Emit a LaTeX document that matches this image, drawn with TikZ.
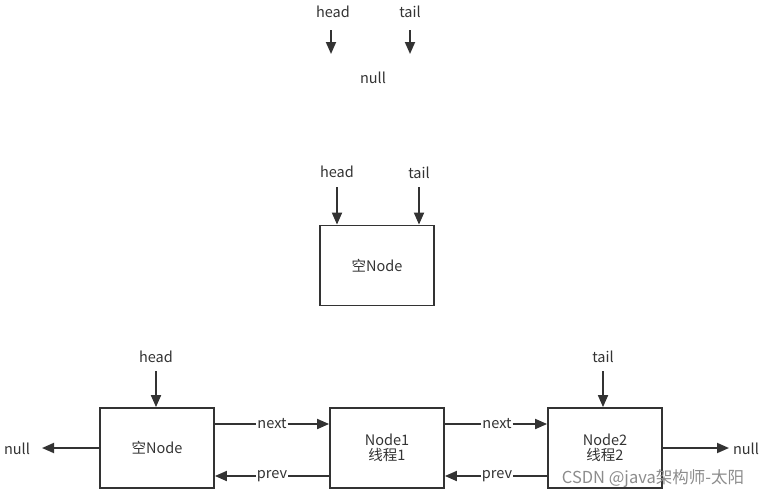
\documentclass[tikz,border=0pt]{standalone}
\usepackage{fontspec}
\setmainfont{Noto Sans CJK SC}
\usetikzlibrary{arrows.meta}
\definecolor{ink}{HTML}{333333}
\tikzset{
  box/.style={draw=ink, line width=1.8pt, minimum width=114pt, minimum height=80pt, inner sep=0pt, align=center, text=ink, font=\fontsize{14.5}{18}\selectfont},
  lbl/.style={text=ink, inner sep=1pt, font=\fontsize{14.5}{16}\selectfont},
  arr/.style={draw=ink, line width=1.8pt, -{Triangle[length=12pt,width=10pt]}},
  ln/.style={draw=ink, line width=1.8pt},
}
\begin{document}
\begin{tikzpicture}[x=1pt,y=-1pt]
\useasboundingbox (0,0) rectangle (770,498);
% top
\node[lbl] (h0) at (333,12) {head};
\node[lbl] (t0) at (410,12) {tail};
\coordinate (h0a) at (331,30);
\coordinate (h0b) at (331,54);
\coordinate (t0a) at (410,30);
\coordinate (t0b) at (410,54);
\draw[arr] (h0a) -- (h0b);
\draw[arr] (t0a) -- (t0b);
\node[lbl] (n0) at (373,78) {null};
% middle
\node[box] (m) at (377,265.5) {空Node};
\node[lbl] (h1) at (337,172) {head};
\node[lbl] (t1) at (419,173) {tail};
\coordinate (h1a) at (337,187);
\coordinate (t1a) at (419,187);
\draw[arr] (h1a) -- (h1a |- m.north);
\draw[arr] (t1a) -- (t1a |- m.north);
% bottom
\node[box] (b1) at (157,448) {空Node};
\node[box] (b2) at (387,448) {Node1\\[-3pt]线程1};
\node[box] (b3) at (605,448) {Node2\\[-3pt]线程2};
\node[lbl] (h2) at (156,357) {head};
\node[lbl] (t2) at (603,357) {tail};
\coordinate (h2a) at (156,371);
\coordinate (t2a) at (603,371);
\draw[arr] (h2a) -- (h2a |- b1.north);
\draw[arr] (t2a) -- (t2a |- b3.north);
\node[lbl] (nl) at (17,449) {null};
\coordinate (nla) at (42,448);
\draw[arr] (b1.west) -- (nla);
\node[lbl] (nr) at (746,449) {null};
\coordinate (nra) at (729,448);
\draw[arr] (b3.east) -- (nra);
% next / prev between b1 and b2
\node[lbl, fill=white] (nx1) at (272,424) {next};
\node[lbl, fill=white] (pv1) at (272,476) {prev};
\draw[ln] (b1.east |- nx1) -- (nx1.west);
\draw[arr] (nx1.east) -- (b2.west |- nx1);
\draw[ln] (b2.west |- pv1) -- (pv1.east);
\draw[arr] (pv1.west) -- (b1.east |- pv1);
% next / prev between b2 and b3
\node[lbl, fill=white] (nx2) at (497,424) {next};
\node[lbl, fill=white] (pv2) at (497,476) {prev};
\draw[ln] (b2.east |- nx2) -- (nx2.west);
\draw[arr] (nx2.east) -- (b3.west |- nx2);
\draw[ln] (b3.west |- pv2) -- (pv2.east);
\draw[arr] (pv2.west) -- (b2.east |- pv2);
% watermark
\node[text=black!45, inner sep=0pt, font=\fontsize{16.5}{18}\selectfont] (wm) at (653,479) {CSDN @java架构师-太阳};
\end{tikzpicture}
\end{document}
